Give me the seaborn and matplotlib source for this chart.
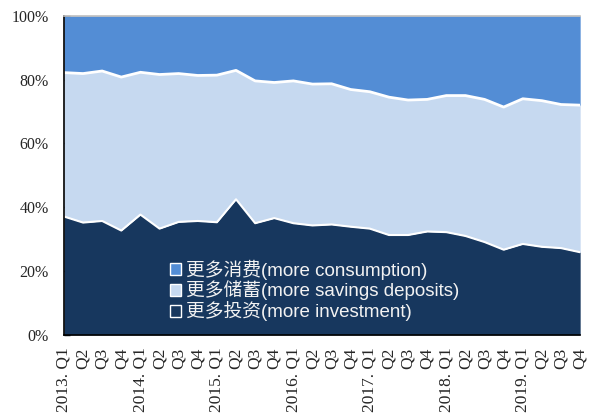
import numpy as np
import pandas as pd
import matplotlib
matplotlib.use("Agg")
import matplotlib.pyplot as plt
import seaborn as sns
from matplotlib.patches import Patch

quarters = ["2013. Q1", "Q2", "Q3", "Q4",
            "2014. Q1", "Q2", "Q3", "Q4",
            "2015. Q1", "Q2", "Q3", "Q4",
            "2016. Q1", "Q2", "Q3", "Q4",
            "2017. Q1", "Q2", "Q3", "Q4",
            "2018. Q1", "Q2", "Q3", "Q4",
            "2019. Q1", "Q2", "Q3", "Q4"]

# share (%) of depositors preferring each option
investment = [37.1, 35.2, 35.7, 32.7, 37.7, 33.3, 35.4, 35.7, 35.3, 42.5, 35.0, 36.6,
              35.0, 34.3, 34.6, 33.9, 33.3, 31.3, 31.3, 32.4, 32.2, 31.0, 29.1, 26.7,
              28.5, 27.6, 27.2, 25.9]
savings = [45.1, 46.7, 47.0, 48.1, 44.6, 48.3, 46.5, 45.6, 46.1, 40.4, 44.6, 42.5,
           44.6, 44.3, 44.1, 43.0, 42.9, 43.2, 42.3, 41.4, 42.8, 44.0, 44.7, 44.7,
           45.5, 45.8, 45.0, 46.1]
consumption = [17.8, 18.1, 17.3, 19.2, 17.7, 18.4, 18.1, 18.7, 18.6, 17.1, 20.4, 20.9,
               20.4, 21.4, 21.3, 23.1, 23.8, 25.5, 26.4, 26.2, 25.0, 25.0, 26.2, 28.6,
               26.0, 26.6, 27.8, 28.0]

labels = ["更多消费(more consumption)", "更多储蓄(more savings deposits)", "更多投资(more investment)"]
colors = {"inv": "#17375e", "sav": "#c6d9f0", "con": "#538dd5"}

df = pd.DataFrame({"q": quarters, "inv": investment, "sav": savings, "con": consumption})
df["x"] = np.arange(len(df))
df["top1"] = df["inv"]
df["top2"] = df["inv"] + df["sav"]

sns.set_style("white")
plt.rcParams["font.family"] = ["Liberation Serif", "Noto Sans CJK SC"]

fig = plt.figure(figsize=(5.92, 4.16), dpi=100)
ax = fig.add_axes([0.108, 0.195, 0.872, 0.767])

ax.stackplot(df["x"], df["inv"], df["sav"], df["con"],
             colors=[colors["inv"], colors["sav"], colors["con"]], linewidth=0)
sns.lineplot(data=df, x="x", y="top1", color="white", lw=1.5, ax=ax)
sns.lineplot(data=df, x="x", y="top2", color="white", lw=2, ax=ax)

ax.set_xlim(0, len(df) - 1)
ax.set_ylim(0, 100)
ax.set_xlabel("")
ax.set_ylabel("")

ax.set_yticks(range(0, 101, 20))
ax.set_yticklabels([f"{v}%" for v in range(0, 101, 20)], fontsize=11.5)
ax.tick_params(axis="y", direction="in", length=4, width=1, color="black", left=True, pad=11)

ax.set_xticks(df["x"])
ax.set_xticklabels(df["q"], rotation=90, fontsize=12.5)
ax.tick_params(axis="x", which="major", length=0, pad=9)
ax.set_xticks(df["x"][::2], minor=True)
ax.tick_params(axis="x", which="minor", direction="in", length=5, width=1, color="black", bottom=True)

for s in ["left", "bottom"]:
    ax.spines[s].set_color("black")
    ax.spines[s].set_linewidth(1.2)
ax.spines["top"].set_color("#bfbfbf")
ax.spines["top"].set_linewidth(1.2)
ax.spines["right"].set_visible(False)
ax.set_zorder(2)

handles = [Patch(facecolor=colors["con"], edgecolor="white", lw=1),
           Patch(facecolor=colors["sav"], edgecolor="white", lw=1),
           Patch(facecolor=colors["inv"], edgecolor="white", lw=1)]
leg = ax.legend(handles, labels, loc="upper left", bbox_to_anchor=(0.19, 0.26),
                frameon=False, handlelength=0.6, handleheight=0.6,
                handletextpad=0.3, labelspacing=0.05, borderaxespad=0,
                prop={"family": ["Liberation Sans", "Noto Sans CJK SC"], "size": 13.5})
for t in leg.get_texts():
    t.set_color("#f2f2f2")

fig.savefig("out.png", dpi=100)
